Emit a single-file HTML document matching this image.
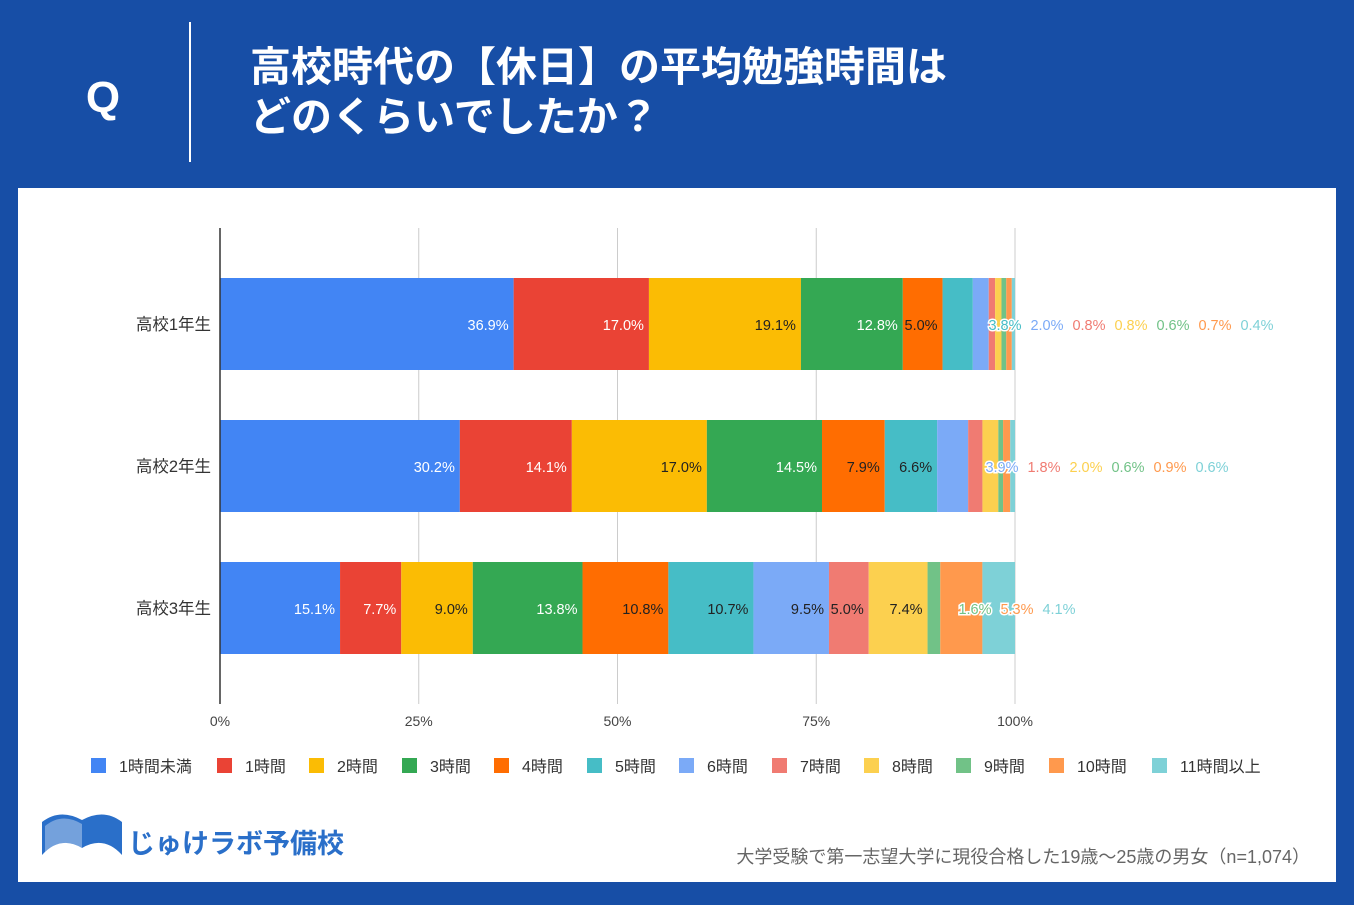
<!DOCTYPE html>
<html><head><meta charset="utf-8">
<style>
body{margin:0;width:1354px;height:905px;background:#174ea6;overflow:hidden;font-family:"Liberation Sans","Noto Sans CJK JP",sans-serif;}
#panel{position:absolute;left:18px;top:188px;width:1318px;height:694px;background:#fff;}
</style></head><body>
<svg width="1354" height="905" style="position:absolute;left:0;top:0">
<text x="103" y="112" fill="#fff" font-size="44" font-weight="bold" text-anchor="middle" font-family="Liberation Sans, sans-serif">Q</text>
<line x1="190" y1="22" x2="190" y2="162" stroke="#fff" stroke-width="2"/>
<text x="250" y="81" fill="#fff" font-size="41" font-weight="bold" font-family="Liberation Sans, Noto Sans CJK JP, sans-serif">高校時代の【休日】の平均勉強時間は</text>
<text x="250" y="131" fill="#fff" font-size="41" font-weight="bold" font-family="Liberation Sans, Noto Sans CJK JP, sans-serif">どのくらいでしたか？</text>
</svg>
<div id="panel"></div>
<svg id="chart" width="1354" height="905" style="position:absolute;left:0;top:0" font-family="Liberation Sans, Noto Sans CJK JP, sans-serif"></svg>
<script>
const categories=["高校1年生","高校2年生","高校3年生"];
const seriesNames=["1時間未満","1時間","2時間","3時間","4時間","5時間","6時間","7時間","8時間","9時間","10時間","11時間以上"];
const year1=[36.9,17.0,19.1,12.8,5.0,3.8,2.0,0.8,0.8,0.6,0.7,0.4];
const year2=[30.2,14.1,17.0,14.5,7.9,6.6,3.9,1.8,2.0,0.6,0.9,0.6];
const year3=[15.1,7.7,9.0,13.8,10.8,10.7,9.5,5.0,7.4,1.6,5.3,4.1];
const ticks=["0%","25%","50%","75%","100%"];
const rows=[year1,year2,year3];
const colors=["#4285f4","#ea4335","#fbbc04","#34a853","#ff6d01","#46bdc6","#7baaf7","#f07b72","#fcd04f","#71c287","#ff994d","#7ed1d7"];
const whiteText=[true,true,false,true,false,false,false,false,false,false,false,false];
const svg=document.getElementById('chart');const NS="http://www.w3.org/2000/svg";
function mk(t,a,p){const e=document.createElementNS(NS,t);for(const k in a)e.setAttribute(k,a[k]);(p||svg).appendChild(e);return e;}
const X0=220,X1=1015;
const xs=p=>X0+(X1-X0)*p/100;
const yc=i=>324+i*142;
ticks.forEach((t,i)=>{const x=xs(i*25);
 if(i>0){const g=mk('line',{x1:x,y1:228,x2:x,y2:704,stroke:'#ccc','stroke-width':1});
 
 }
 const tx=mk('text',{x:x,y:726,'font-size':14,'text-anchor':'middle',fill:'#444'});tx.textContent=t;
 
 
});
rows.forEach((vals,r)=>{
 const tot=vals.reduce((a,b)=>a+b,0);let cum=0;const outside=[];
 const lab=mk('text',{x:211,y:yc(r)+6,'font-size':16.5,'text-anchor':'end',fill:'#333'});lab.textContent=categories[r];
 
 
 vals.forEach((v,s)=>{
  const a=xs(cum/tot*100);cum+=v;const b=xs(cum/tot*100);
  const rc=mk('rect',{x:a,y:yc(r)-46,width:Math.max(0,b-a),height:92,fill:colors[s]});
  
  
  const txt=v.toFixed(1)+'%';
  if(b-a>35 && s<9){const t=mk('text',{x:b-5,y:yc(r)+6,'font-size':14.5,'text-anchor':'end',fill:whiteText[s]?'#fff':'#222'});t.textContent=txt;
   
   }
  else outside.push([txt,s]);
 });
 const start=[1005,1002,975][r];
 outside.forEach((o,k)=>{const t=mk('text',{x:start+42*k,y:yc(r)+6,'font-size':14.5,'text-anchor':'middle',fill:colors[o[1]],stroke:'#fff','stroke-width':3,'paint-order':'stroke'});t.textContent=o[0];
  
  });
});
const ax=mk('line',{x1:X0,y1:228,x2:X0,y2:704,stroke:'#333','stroke-width':1.5});


const lx=[91,217,309,402,494,587,679,772,864,956,1049,1152];
seriesNames.forEach((n,i)=>{const g=mk('g',{});
 
 
 mk('rect',{x:lx[i],y:758,width:15,height:15,fill:colors[i]},g);
 const t=mk('text',{x:lx[i]+28,y:772,'font-size':16,fill:'#333'},g);t.textContent=n;});
const lg=mk('g',{});


mk('path',{d:'M42 855 Q60 835 82 848 Q104 835 122 855 L122 822 Q104 808 82 820 Q60 808 42 822 Z',fill:'#2a6fc9'},lg);
mk('path',{d:'M45 852 Q62 836 82 848 L82 824 Q62 812 45 826 Z',fill:'#fff',opacity:0.35},lg);
const lt=mk('text',{x:128,y:853,'font-size':27,'font-weight':'bold',fill:'#2a6fc9'},lg);lt.textContent='じゅけラボ予備校';
const fn=mk('text',{x:1310,y:863,'font-size':18,'text-anchor':'end',fill:'#666'});fn.textContent='大学受験で第一志望大学に現役合格した19歳〜25歳の男女（n=1,074）';


</script>
</body></html>
